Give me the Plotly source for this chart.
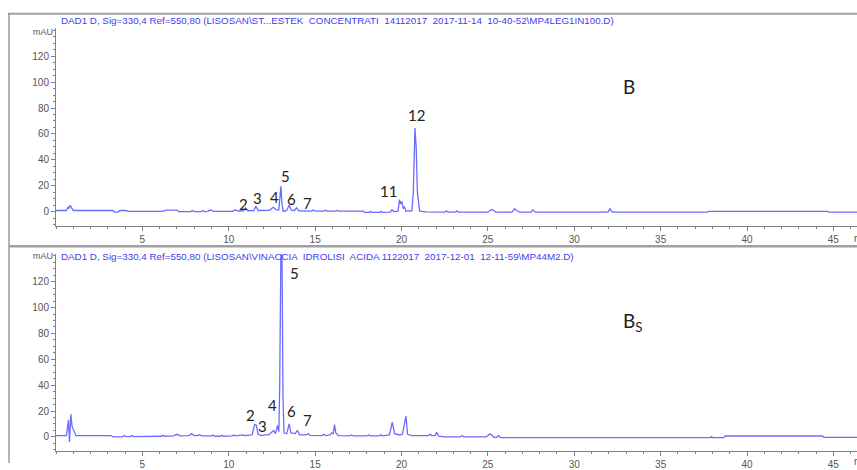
import plotly.graph_objects as go

W, H = 857, 470

# ---------------- data (retention time in min, absorbance in mAU) ----------------
time_B = [0.0, 0.6, 0.7, 0.75, 0.82, 0.9, 1.0, 3.3, 3.4, 3.6, 3.7, 4.05, 4.15, 6.2, 6.35, 7.0, 7.1,
          7.8, 7.9, 8.0, 8.4, 8.5, 8.6, 8.8, 8.9, 9.0, 9.1, 10.2, 10.4, 10.55, 10.85, 10.97, 11.1,
          11.45, 11.57, 11.7, 12.35, 12.58, 12.75, 12.9, 12.97, 13.02, 13.08, 13.15, 13.35, 13.5,
          13.62, 13.8, 13.93, 14.05, 14.8, 14.9, 15.0, 15.5, 15.6, 15.7, 16.15, 16.26, 16.35, 17.8,
          17.85, 18.15, 18.2, 18.3, 18.75, 18.8, 18.9, 19.35, 19.45, 19.55, 19.8, 19.88, 19.95, 20.02,
          20.1, 20.17, 20.25, 20.6, 20.68, 20.72, 20.78, 20.85, 20.92, 21.05, 21.4, 22.5, 22.6, 22.7,
          23.1, 23.2, 23.3, 25.0, 25.1, 25.2, 25.35, 25.45, 26.4, 26.55, 26.7, 26.85, 27.5, 27.6,
          27.75, 31.95, 32.07, 32.2, 37.7, 37.8, 44.65, 44.75, 46.5]
abs_B = [1.0, 1.0, 3.5, 2.5, 5.0, 3.0, 1.0, 1.0, -0.2, -0.2, 1.0, 1.0, 0.3, 0.3, 1.3, 1.3, 0.2,
         0.2, 1.0, 0.2, 0.2, 1.0, 0.2, 0.3, 1.2, 1.2, 0.3, 0.3, 1.5, 0.6, 0.8, 3.0, 0.8,
         1.0, 4.3, 1.0, 1.2, 3.5, 1.5, 1.5, 10.0, 19.7, 6.0, 0.3, 1.0, 5.0,
         1.2, 1.0, 3.0, 0.8, 0.5, 1.5, 0.5, 0.5, 1.2, 0.5, 0.5, 1.0, 0.5, 0.5,
         -0.5, -0.5, 0.3, -0.5, -0.5, 0.3, -0.5, -0.3, 1.5, 0.2, 0.5, 9.3, 6.0, 8.0,
         2.5, 4.0, 0.5, 0.8, 14.0, 45.0, 64.5, 50.0, 15.0, 0.5, 0.0, -0.3, 0.8, -0.3,
         -0.3, 0.7, -0.3, -0.3, 1.0, 1.7, 1.0, -0.3, -0.3, 2.3, 0.6, -0.3, -0.3, 1.5,
         -0.3, -0.3, 2.3, -0.3, -0.3, 0.3, 0.3, -0.3, -0.3]

time_BS = [0.0, 0.6, 0.72, 0.78, 0.86, 0.93, 1.0, 1.15, 3.2, 3.3, 3.85, 3.95, 4.05, 4.3, 4.4, 4.5,
           6.1, 6.2, 6.3, 6.8, 7.0, 7.2, 7.7, 7.85, 8.0, 8.2, 8.3, 8.45, 9.0, 9.1, 9.2, 9.5, 9.6,
           9.7, 10.2, 10.3, 10.4, 10.7, 10.8, 10.9, 11.35, 11.5, 11.6, 11.7, 11.9, 12.1, 12.3,
           12.6, 12.7, 12.83, 12.9, 12.95, 12.98, 13.0, 13.05, 13.1, 13.14, 13.2, 13.35, 13.5,
           13.6, 13.85, 13.97, 14.1, 14.5, 14.6, 14.7, 15.4, 15.5, 15.6, 15.85, 15.95, 16.05,
           16.12, 16.2, 16.35, 17.0, 17.1, 17.2, 18.0, 18.1, 18.2, 18.7, 18.8, 18.9, 19.3, 19.47,
           19.6, 19.9, 20.05, 20.26, 20.35, 20.6, 21.55, 21.65, 21.75, 21.95, 22.03, 22.15, 22.5,
           23.4, 23.5, 23.6, 24.9, 25.0, 25.12, 25.25, 25.35, 25.5, 25.62, 25.72, 37.9, 37.95,
           38.0, 38.65, 38.75, 44.35, 44.45, 46.5]
abs_BS = [1.0, 1.0, 13.0, -4.0, 17.5, 8.0, 6.0, 1.0, 1.0, 0.0, 0.0, 1.0, 0.2, 0.2, 1.0, 0.2,
          0.5, 1.2, 0.5, 0.8, 2.0, 0.8, 1.0, 2.5, 1.0, 1.0, 1.7, 0.8, 0.8, 1.3, 0.5, 0.5, 1.3,
          0.5, 0.8, 1.5, 0.8, 1.0, 1.6, 1.0, 1.5, 9.5, 9.0, 2.0, 1.0, 1.5, 1.5,
          5.0, 2.5, 9.0, 4.0, 40.0, 95.0, 170.0, 190.0, 110.0, 30.0, 3.0, 2.5, 10.0,
          3.0, 2.5, 5.0, 1.5, 1.5, 2.5, 1.2, 1.0, 2.0, 1.0, 1.5, 3.0, 2.5,
          9.5, 3.0, 1.0, 0.8, 1.5, 0.8, 0.8, 1.5, 0.8, 0.8, 1.6, 0.8, 1.5, 11.5,
          2.5, 1.5, 2.0, 16.0, 2.0, 1.0, 1.0, 2.0, 1.0, 1.2, 3.5, 0.5, 0.0,
          0.0, 1.0, 0.0, 0.0, 1.0, 2.3, 1.0, -0.3, -0.3, 1.0, -0.5, -0.5, 0.2,
          -0.5, -0.5, 0.7, 0.7, -0.3, -0.3]

x_tick_vals = [5, 10, 15, 20, 25, 30, 35, 40, 45]
y_tick_vals = [0, 20, 40, 60, 80, 100, 120]

# peak labels: (text, time, mAU)
labels_B = [("2", 10.83, 6.1), ("3", 11.69, 10.6), ("4", 12.62, 11.4), ("5", 13.31, 27.3),
            ("6", 13.66, 9.9), ("7", 14.53, 6.8), ("11", 19.22, 15.9), ("12", 20.84, 74.4)]
labels_BS = [("2", 11.23, 17.1), ("3", 11.98, 8.8), ("4", 12.56, 24.8), ("5", 13.78, 126.9),
             ("6", 13.66, 20.2), ("7", 14.53, 13.3)]

title_B = r"DAD1 D, Sig=330,4 Ref=550,80 (LISOSAN\ST...ESTEK  CONCENTRATI  14112017  2017-11-14  10-40-52\MP4LEG1IN100.D)"
title_BS = r"DAD1 D, Sig=330,4 Ref=550,80 (LISOSAN\VINACCIA  IDROLISI  ACIDA 1122017  2017-12-01  12-11-59\MP44M2.D)"
panel_names = ["B", "B<sub>S</sub>"]

# ---------------- figure ----------------
def px(x):
    return x / W

def py(y):
    return 1 - y / H

LINE = "#6b6bff"
TITLE_C = "#4040f0"
AX_C = "#808080"
TICK_FONT = dict(family="Liberation Sans, Arial", size=10, color="#555555")

fig = go.Figure()
fig.add_trace(go.Scatter(x=time_B, y=abs_B, mode="lines", line=dict(color=LINE, width=1.3),
                         xaxis="x", yaxis="y", showlegend=False, hoverinfo="skip"))
fig.add_trace(go.Scatter(x=time_BS, y=abs_BS, mode="lines", line=dict(color=LINE, width=1.3),
                         xaxis="x2", yaxis="y2", showlegend=False, hoverinfo="skip"))

x_dom = [px(56), 1.0]
x_rng = [0, (W - 56) / 17.275]

def xaxis(anchor):
    return dict(domain=x_dom, range=x_rng, anchor=anchor, tickvals=x_tick_vals,
                showline=True, linecolor=AX_C, linewidth=1, ticks="outside", ticklen=4,
                tickcolor=AX_C, tickfont=TICK_FONT, showgrid=False, zeroline=False,
                minor=dict(dtick=1, ticks="outside", ticklen=2.5, tickcolor=AX_C))

def yaxis(anchor, dom, rng):
    return dict(domain=dom, range=rng, anchor=anchor, tickvals=y_tick_vals,
                showline=True, linecolor=AX_C, linewidth=1, ticks="outside", ticklen=4,
                tickcolor=AX_C, tickfont=TICK_FONT, showgrid=False, zeroline=False,
                minor=dict(dtick=5, ticks="outside", ticklen=2.5, tickcolor=AX_C))

fig.update_layout(
    width=W, height=H, autosize=False,
    margin=dict(l=0, r=0, t=0, b=0),
    paper_bgcolor="white", plot_bgcolor="white",
    xaxis=xaxis("y"),
    yaxis=yaxis("x", [py(229), py(28)], [-(229 - 215) / 1.317, (215 - 28) / 1.317]),
    xaxis2=xaxis("y2"),
    yaxis2=yaxis("x2", [py(457.5), py(258)], [-(457.5 - 443.5) / 1.3125, (443.5 - 258) / 1.3125]),
)

ann = []
# header titles
for txt, yy in [(title_B, 21), (title_BS, 260)]:
    ann.append(dict(text=txt, x=px(59), y=py(yy), xref="paper", yref="paper", xanchor="left",
                    yanchor="middle", showarrow=False,
                    font=dict(family="Liberation Sans, Arial", size=9.8, color=TITLE_C)))
# mAU labels
for yy in [32, 260]:
    ann.append(dict(text="mAU", x=px(55), y=py(yy), xref="paper", yref="paper", xanchor="right",
                    yanchor="middle", showarrow=False,
                    font=dict(family="Liberation Sans, Arial", size=9, color="#555555")))
# min labels at right edge (partly outside the window, as in the original)
for yy in [242, 468]:
    ann.append(dict(text="min", x=px(852), y=py(yy), xref="paper", yref="paper", xanchor="left",
                    yanchor="middle", showarrow=False,
                    font=dict(family="Liberation Sans, Arial", size=10, color="#555555")))
# panel letters
ann.append(dict(text=panel_names[0], x=px(629), y=py(88), xref="paper", yref="paper",
                xanchor="center", yanchor="middle", showarrow=False,
                font=dict(family="Lato, Open Sans", size=19, color="#222222")))
ann.append(dict(text=panel_names[1], x=px(633), y=py(327), xref="paper", yref="paper",
                xanchor="center", yanchor="middle", showarrow=False,
                font=dict(family="Lato, Open Sans", size=19, color="#222222")))
# peak labels
for (t, xx, yy) in labels_B:
    ann.append(dict(text=t, x=xx, y=yy, xref="x", yref="y", showarrow=False,
                    xanchor="center", yanchor="middle",
                    font=dict(family="Lato, Open Sans", size=15, color="#222222")))
for (t, xx, yy) in labels_BS:
    ann.append(dict(text=t, x=xx, y=yy, xref="x2", yref="y2", showarrow=False,
                    xanchor="center", yanchor="middle",
                    font=dict(family="Lato, Open Sans", size=15, color="#222222")))
fig.update_layout(annotations=ann)

# frame lines
shapes = [
    dict(type="line", xref="paper", yref="paper", x0=px(8), x1=1, y0=py(14), y1=py(14),
         line=dict(color="#a0a0a0", width=2)),
    dict(type="line", xref="paper", yref="paper", x0=px(9), x1=px(9), y0=0, y1=py(14),
         line=dict(color="#808080", width=1.2)),
    dict(type="line", xref="paper", yref="paper", x0=px(9), x1=1, y0=py(250), y1=py(250),
         line=dict(color="#a0a0a0", width=2.5)),
]
fig.update_layout(shapes=shapes)

fig.write_html("out.html")
